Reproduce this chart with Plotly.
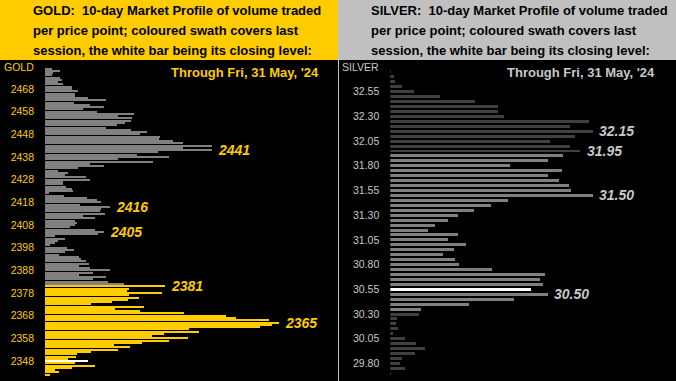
import plotly.graph_objects as go

# ---------------- DATA ----------------
# GOLD: volume per price point, from the top price (2477) down to 2342
gold_top_price = 2477
gold_volume = [
    20, 45, 23, 20, 45, 50, 40, 53, 80, 80,
    98, 90, 90, 128, 183, 87, 135, 177, 115, 155,
    267, 219, 260, 257, 240, 215, 183, 257, 305, 285,
    345, 342, 383, 413, 501, 413, 501, 338, 275, 372,
    218, 323, 135, 177, 98, 38, 68, 60, 123, 135,
    53, 55, 63, 80, 83, 12, 57, 125, 155, 167,
    105, 195, 167, 165, 180, 113, 150, 90, 95, 90,
    75, 150, 177, 158, 30, 60, 38, 30, 15, 65,
    87, 60, 42, 102, 108, 123, 132, 102, 135, 195,
    145, 102, 183, 145, 190, 237, 360, 252, 245, 350,
    252, 282, 248, 202, 137, 297, 210, 285, 417, 543,
    573, 672, 703, 680, 645, 432, 462, 357, 320, 428,
    372, 290, 207, 255, 219, 137, 95, 93, 70, 128,
    90, 150, 80, 30, 42, 15,
]
gold_prices = [gold_top_price - i for i in range(len(gold_volume))]
gold_session_high = 2381
gold_session_low = 2342
gold_close = 2348
gold_labels = [2441, 2416, 2405, 2381, 2365]
gold_ticks = [2348, 2358, 2368, 2378, 2388, 2398, 2408, 2418, 2428, 2438, 2448, 2458, 2468]

# SILVER: volume per price point (0.05 steps), from 32.75 down to 29.70
silver_top_price = 32.75
silver_volume = [
    3, 13, 16, 35, 73, 151, 256, 323, 323, 343,
    598, 541, 608, 556, 481, 541, 571, 520, 473, 361,
    515, 473, 506, 536, 542, 608, 355, 302, 251, 203,
    173, 134, 113, 203, 173, 227, 191, 158, 194, 206,
    305, 464, 449, 458, 422, 473, 371, 236, 92, 86,
    20, 17, 23, 8, 44, 77, 104, 74, 35, 29,
    44, 3,
]
silver_prices = [round(silver_top_price - 0.05 * i, 2) for i in range(len(silver_volume))]
silver_session_high = 31.90
silver_session_low = 30.35
silver_close = 30.55
silver_labels = [32.15, 31.95, 31.50, 30.50]
silver_ticks = [29.80, 30.05, 30.30, 30.55, 30.80, 31.05, 31.30, 31.55, 31.80, 32.05, 32.30, 32.55]

header_lines = [
    "{}:  10-day Market Profile of volume traded",
    "per price point; coloured swath covers last",
    "session, the white bar being its closing level:",
]
through_text = "Through Fri, 31 May, '24"

# ---------------- STYLE ----------------
W, H = 676, 381
YEL = "#FFCC00"
GRAY_HDR = "#C0C0C0"
SIL_TXT = "#C8C8C8"
FONT = "Liberation Sans"


def px(x):
    return x / W


def py(y):
    return 1 - y / H


gold_colors = []
for p in gold_prices:
    if p == gold_close:
        gold_colors.append("#FFFFFF")
    elif gold_session_low <= p <= gold_session_high:
        gold_colors.append(YEL)
    else:
        gold_colors.append("#808080")

silver_colors = []
for p in silver_prices:
    if abs(p - silver_close) < 1e-6:
        silver_colors.append("#FFFFFF")
    elif silver_session_low - 1e-6 <= p <= silver_session_high + 1e-6:
        silver_colors.append("#808080")
    else:
        silver_colors.append("#404040")

fig = go.Figure()
fig.add_trace(go.Bar(x=gold_volume, y=gold_prices, orientation="h", width=0.45,
                     marker=dict(color=gold_colors, line=dict(width=0)),
                     xaxis="x", yaxis="y", hoverinfo="skip"))
fig.add_trace(go.Bar(x=silver_volume, y=silver_prices, orientation="h", width=0.03,
                     marker=dict(color=silver_colors, line=dict(width=0)),
                     xaxis="x2", yaxis="y2", hoverinfo="skip"))

plot_top = 60
gold_x0, sep_x, silver_x0 = 45, 338, 390.3

fig.update_layout(
    width=W, height=H,
    margin=dict(l=0, r=0, t=0, b=0),
    paper_bgcolor="#000000", plot_bgcolor="#000000",
    showlegend=False, bargap=0,
    xaxis=dict(domain=[px(gold_x0), px(sep_x)], range=[0, (sep_x - gold_x0) * 3],
               visible=False, fixedrange=True),
    yaxis=dict(domain=[0, py(plot_top)], range=[2339.2, 2480.8], anchor="x",
               tickvals=gold_ticks, showgrid=False, zeroline=False, showline=False,
               ticks="", ticklabelstandoff=10,
               tickfont=dict(family=FONT, size=10.5, color=YEL)),
    xaxis2=dict(domain=[px(silver_x0), 1], range=[0, (W - silver_x0) * 3],
                visible=False, anchor="y2", fixedrange=True),
    yaxis2=dict(domain=[0, py(plot_top)], range=[29.622, 32.871], anchor="x2",
                tickvals=silver_ticks, tickformat=".2f", showgrid=False,
                zeroline=False, showline=False, ticks="", ticklabelstandoff=10,
                tickfont=dict(family=FONT, size=10.5, color=SIL_TXT)),
)

shapes = [
    dict(type="rect", xref="paper", yref="paper", x0=0, x1=px(sep_x), y0=py(plot_top), y1=1,
         fillcolor=YEL, line=dict(width=0), layer="below"),
    dict(type="rect", xref="paper", yref="paper", x0=px(sep_x), x1=1, y0=py(plot_top), y1=1,
         fillcolor=GRAY_HDR, line=dict(width=0), layer="below"),
    dict(type="line", xref="paper", yref="paper", x0=px(sep_x + 0.5), x1=px(sep_x + 0.5),
         y0=0, y1=py(plot_top), line=dict(color=GRAY_HDR, width=1)),
]
fig.update_layout(shapes=shapes)

ann = []
line_y = [11, 30.5, 50]
for name, x0 in (("GOLD", 31), ("SILVER", 369)):
    for i, txt in enumerate(header_lines):
        ann.append(dict(xref="paper", yref="paper", x=px(x0), y=py(line_y[i]),
                        xanchor="left", yanchor="middle", showarrow=False,
                        text=txt.format(name) if i == 0 else txt,
                        font=dict(family=FONT, size=13, color="#000000", weight="bold")))

ann.append(dict(xref="paper", yref="paper", x=px(321), y=py(73), xanchor="right",
                yanchor="middle", showarrow=False, text=through_text,
                font=dict(family=FONT, size=13, color=YEL, weight="bold")))
ann.append(dict(xref="paper", yref="paper", x=px(657), y=py(73), xanchor="right",
                yanchor="middle", showarrow=False, text=through_text,
                font=dict(family=FONT, size=13, color=SIL_TXT, weight="bold")))
ann.append(dict(xref="paper", yref="paper", x=px(35.5), y=py(67), xanchor="right",
                yanchor="middle", showarrow=False, text="GOLD",
                font=dict(family=FONT, size=10.5, color=YEL)))
ann.append(dict(xref="paper", yref="paper", x=px(381), y=py(67), xanchor="right",
                yanchor="middle", showarrow=False, text="SILVER",
                font=dict(family=FONT, size=10.5, color=SIL_TXT)))

for p in gold_labels:
    v = gold_volume[gold_prices.index(p)]
    ann.append(dict(xref="x", yref="y", x=v, y=p, xanchor="left", yanchor="middle",
                    xshift=4, showarrow=False, text=str(p),
                    font=dict(family=FONT, size=14, color=YEL, weight="bold", style="italic")))
for p in silver_labels:
    idx = min(range(len(silver_prices)), key=lambda k: abs(silver_prices[k] - p))
    v = silver_volume[idx]
    ann.append(dict(xref="x2", yref="y2", x=v, y=p, xanchor="left", yanchor="middle",
                    xshift=4, showarrow=False, text=f"{p:.2f}",
                    font=dict(family=FONT, size=14, color=SIL_TXT, weight="bold", style="italic")))

fig.update_layout(annotations=ann)
fig.write_html("out.html", config={"displayModeBar": False},
               post_script="document.body.style.margin='0';document.body.style.overflow='hidden';")
